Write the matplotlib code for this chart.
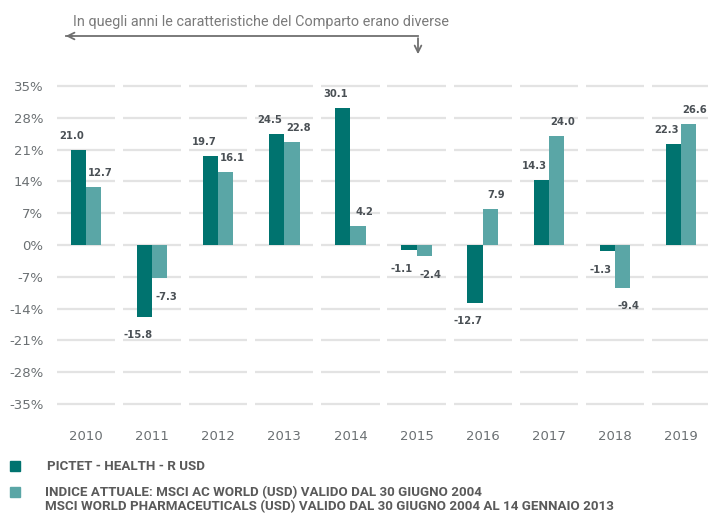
import matplotlib
matplotlib.use("Agg")
import matplotlib.pyplot as plt
from matplotlib.patches import Rectangle

years = ["2010", "2011", "2012", "2013", "2014", "2015", "2016", "2017", "2018", "2019"]
fund = [21.0, -15.8, 19.7, 24.5, 30.1, -1.1, -12.7, 14.3, -1.3, 22.3]
index = [12.7, -7.3, 16.1, 22.8, 4.2, -2.4, 7.9, 24.0, -9.4, 26.6]
yticks = [-35, -28, -21, -14, -7, 0, 7, 14, 21, 28, 35]

fund_label = "PICTET - HEALTH - R USD"
index_lines = ["INDICE ATTUALE: MSCI AC WORLD (USD) VALIDO DAL 30 GIUGNO 2004",
               "MSCI WORLD PHARMACEUTICALS (USD) VALIDO DAL 30 GIUGNO 2004 AL 14 GENNAIO 2013"]
note = "In quegli anni le caratteristiche del Comparto erano diverse"

dark = "#00736f"
light = "#5aa6a6"
grid_c = "#e3e3e3"
txt_c = "#6b7073"
lab_c = "#4a5055"
narrow = ["Roboto", "DejaVu Sans"]

W, H = 708, 513
fig = plt.figure(figsize=(W / 100, H / 100), dpi=100)
ax = fig.add_axes([53 / W, (H - 417.5) / H, 655 / W, 345 / H])

x = list(range(len(years)))
bw = 0.23

# segmented grid lines, one piece per category
for i in x:
    ax.hlines(yticks, i - 0.44, i + 0.44, color=grid_c, linewidth=1.6, zorder=0)

ax.bar([i - bw / 2 for i in x], fund, width=bw, color=dark, zorder=2)
ax.bar([i + bw / 2 for i in x], index, width=bw, color=light, zorder=2)

for i in x:
    for v, dx in ((fund[i], -0.22), (index[i], 0.21)):
        off = 10 if v >= 0 else -13.5
        ax.annotate(f"{v:.1f}", (i + dx, v), xytext=(0, off), textcoords="offset points",
                    ha="center", va="center", fontsize=7.2, fontweight="bold", color=lab_c)

ax.set_xlim(-0.5, -0.5 + 655 / 66.1)
ax.set_ylim(-38, 38)
ax.set_yticks(yticks)
ax.set_yticklabels([f"{t}%" for t in yticks])
ax.set_xticks(x)
ax.set_xticklabels(years)
ax.tick_params(length=0, labelsize=9.5, colors=txt_c)
ax.tick_params(axis="y", pad=7)
ax.tick_params(axis="x", pad=9)
for s in ax.spines.values():
    s.set_visible(False)

# note with bent arrow
fig.text(73 / W, 1 - 22 / H, note, fontsize=10.4, color="#7a7a7a", family=narrow,
         va="center", ha="left")
fig.add_artist(plt.Line2D([66 / W, 418 / W], [1 - 36 / H, 1 - 36 / H],
                          color="#707070", linewidth=1.3))
ax.annotate("", xy=(63 / W, 1 - 36 / H), xytext=(75 / W, 1 - 36 / H), xycoords="figure fraction",
            arrowprops=dict(arrowstyle="->", color="#707070", lw=1.3, mutation_scale=12))
ax.annotate("", xy=(418 / W, 1 - 57 / H), xytext=(418 / W, 1 - 35.4 / H), xycoords="figure fraction",
            arrowprops=dict(arrowstyle="->", color="#707070", lw=1.3, mutation_scale=12))

# legend
fig.add_artist(Rectangle((10 / W, 1 - 471 / H), 10 / W, 10 / H, color=dark, transform=fig.transFigure))
fig.add_artist(Rectangle((10 / W, 1 - 497 / H), 10 / W, 10 / H, color=light, transform=fig.transFigure))
fig.text(47 / W, 1 - 466 / H, fund_label, fontsize=9.6, fontweight="bold", color="#5a5a5a",
         family=narrow, va="center", ha="left")
for k, line in enumerate(index_lines):
    fig.text(45 / W, 1 - (492.5 + 14 * k) / H, line, fontsize=9.6, fontweight="bold",
             color="#5a5a5a", family=narrow, va="center", ha="left")

fig.savefig("out.png", dpi=100)
